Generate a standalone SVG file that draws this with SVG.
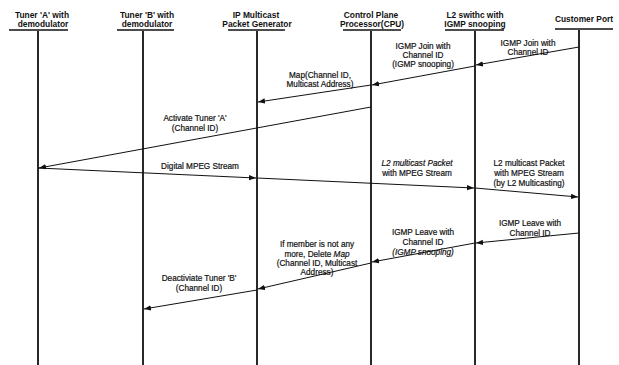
<svg xmlns="http://www.w3.org/2000/svg" width="619" height="365" viewBox="0 0 619 365">
<style>
.hd{font-family:"Liberation Sans",Arial,sans-serif;font-size:8.4px;font-weight:bold;fill:#111;text-anchor:middle}
.lb{font-family:"Liberation Sans",Arial,sans-serif;font-size:8.2px;fill:#111;stroke:#111;stroke-width:0.2;text-anchor:middle}
.it{font-style:italic}
.ul{stroke:#111;stroke-width:1.4}
.life{stroke:#111;stroke-width:1.8}
.msg{stroke:#111;stroke-width:1;fill:none;marker-end:url(#ah)}
</style>
<defs>
<marker id="ah" markerUnits="userSpaceOnUse" markerWidth="8" markerHeight="6" refX="7" refY="3" orient="auto">
<path d="M0,0.3 L7,3 L0,5.7 Z" fill="#111"/>
</marker>
</defs>
<rect width="619" height="365" fill="#fff"/>
<g id="tunerA">
<text class="hd" x="42" y="17.5">Tuner 'A' with</text>
<text class="hd" x="43" y="27">demodulator</text>
<line class="ul" x1="9" y1="30" x2="68" y2="30"/>
<line class="life" x1="38" y1="31" x2="38" y2="365"/>
</g>
<g id="tunerB">
<text class="hd" x="147" y="17.5">Tuner 'B' with</text>
<text class="hd" x="147" y="27">demodulator</text>
<line class="ul" x1="117" y1="30" x2="174" y2="30"/>
<line class="life" x1="143" y1="31" x2="143" y2="365"/>
</g>
<g id="ipgen">
<text class="hd" x="256" y="17.5">IP Multicast</text>
<text class="hd" x="257" y="27">Packet Generator</text>
<line class="ul" x1="228" y1="30" x2="285" y2="30"/>
<line class="life" x1="257" y1="31" x2="257" y2="365"/>
</g>
<g id="cpu">
<text class="hd" x="371" y="17.5">Control Plane</text>
<text class="hd" x="372" y="27">Processor(CPU)</text>
<line class="ul" x1="343" y1="30" x2="401" y2="30"/>
<line class="life" x1="371" y1="31" x2="371" y2="365"/>
</g>
<g id="l2switch">
<text class="hd" x="475" y="17.5">L2 swithc with</text>
<text class="hd" x="475" y="27">IGMP snooping</text>
<line class="ul" x1="445" y1="30" x2="504" y2="30"/>
<line class="life" x1="475" y1="31" x2="475" y2="365"/>
</g>
<g id="customer">
<text class="hd" x="584" y="22">Customer Port</text>
<line class="ul" x1="555" y1="29" x2="613" y2="29"/>
<line class="life" x1="579" y1="30" x2="579" y2="365"/>
</g>
<g id="connectors">
<line class="msg" x1="579" y1="47" x2="476" y2="65"/>
<line class="msg" x1="475" y1="66" x2="372" y2="85"/>
<line class="msg" x1="371" y1="85" x2="258" y2="102"/>
<line class="msg" x1="371" y1="107" x2="39" y2="168"/>
<line class="msg" x1="38" y1="168" x2="256" y2="178"/>
<line class="msg" x1="257" y1="178" x2="474" y2="188"/>
<line class="msg" x1="475" y1="188" x2="578" y2="197"/>
<line class="msg" x1="579" y1="233" x2="476" y2="243"/>
<line class="msg" x1="475" y1="243" x2="372" y2="262"/>
<line class="msg" x1="371" y1="263" x2="258" y2="289"/>
<line class="msg" x1="257" y1="290" x2="144" y2="309"/>
</g>
<g id="labels">
<text class="lb" x="528" y="46">IGMP Join with</text>
<text class="lb" x="528" y="55">Channel ID</text>
<text class="lb" x="423" y="49">IGMP Join with</text>
<text class="lb" x="423" y="58">Channel ID</text>
<text class="lb" x="423" y="67">(IGMP snooping)</text>
<text class="lb" x="320" y="78">Map(Channel ID,</text>
<text class="lb" x="320" y="87">Multicast Address)</text>
<text class="lb" x="195" y="121">Activate Tuner 'A'</text>
<text class="lb" x="195" y="131">(Channel ID)</text>
<text class="lb" x="200" y="169">Digital MPEG Stream</text>
<text class="lb it" x="417" y="166">L2 multicast Packet</text>
<text class="lb" x="417" y="176">with MPEG Stream</text>
<text class="lb" x="529" y="166">L2 multicast Packet</text>
<text class="lb" x="529" y="176">with MPEG Stream</text>
<text class="lb" x="529" y="186">(by L2 Multicasting)</text>
<text class="lb" x="530" y="226">IGMP Leave with</text>
<text class="lb" x="530" y="236">Channel ID</text>
<text class="lb" x="423" y="235">IGMP Leave with</text>
<text class="lb" x="423" y="245">Channel ID</text>
<text class="lb it" x="423" y="255">(IGMP snooping)</text>
<text class="lb" x="317" y="247">If member is not any</text>
<text class="lb" x="317" y="257">more, Delete <tspan class="it">Map</tspan></text>
<text class="lb" x="317" y="266">(Channel ID, Multicast</text>
<text class="lb" x="317" y="275">Address)</text>
<text class="lb" x="199" y="281">Deactiviate Tuner 'B'</text>
<text class="lb" x="199" y="291">(Channel ID)</text>
</g>
</svg>
